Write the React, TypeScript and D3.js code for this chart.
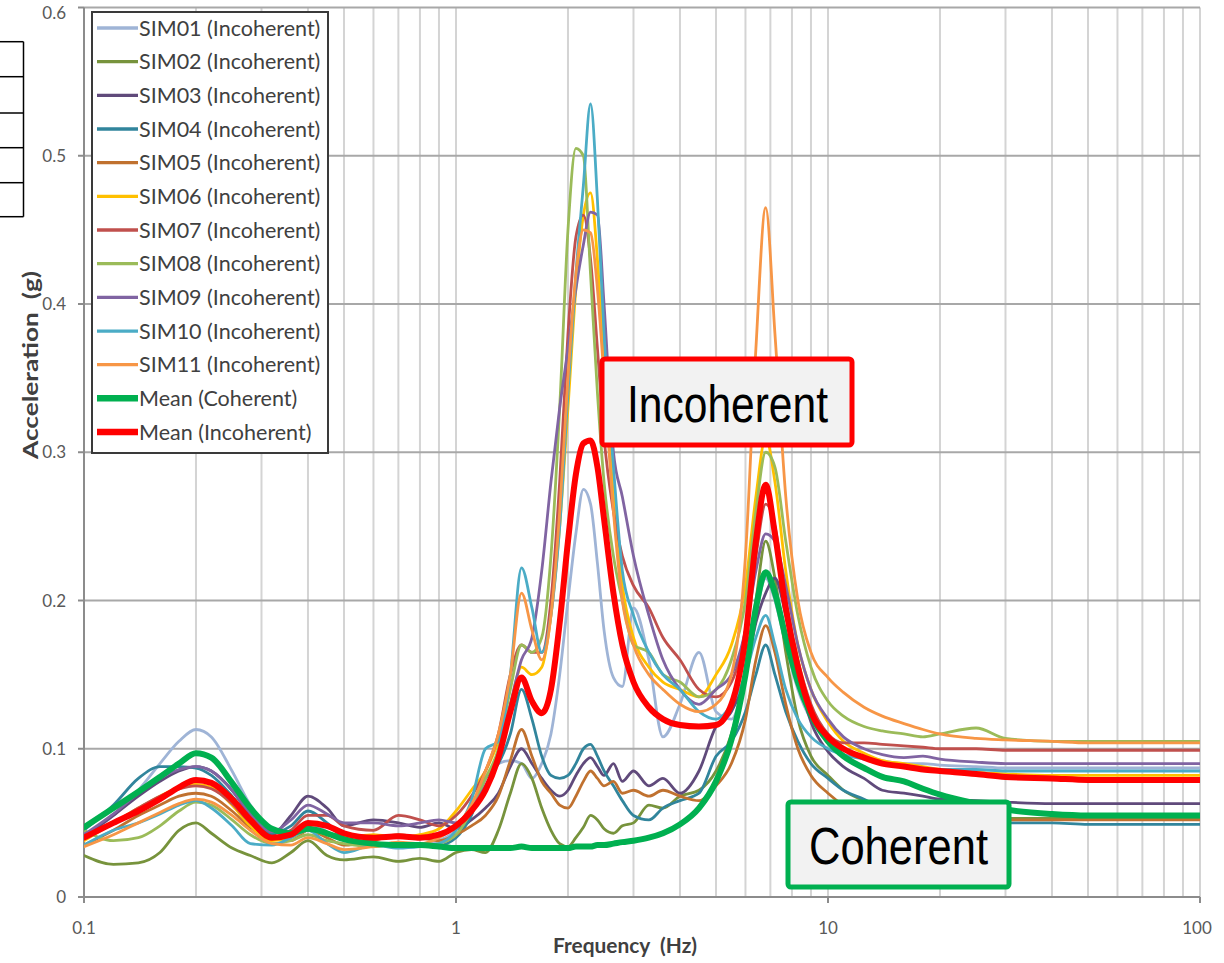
import React from "react";
import * as d3 from "d3";

const freqs = [0.1, 0.12, 0.14, 0.16, 0.18, 0.2, 0.22, 0.25, 0.28, 0.32,
  0.36, 0.4, 0.45, 0.5, 0.6, 0.7, 0.8, 0.9, 1.0, 1.1,
  1.2, 1.3, 1.4, 1.5, 1.6, 1.7, 1.8, 1.9, 2.0, 2.1,
  2.2, 2.3, 2.4, 2.5, 2.65, 2.8, 3.0, 3.3, 3.6, 4.0,
  4.5, 5.0, 5.5, 6.0, 6.4, 6.8, 7.2, 7.7, 8.3, 9.0,
  10, 11, 12.5, 14, 16, 18, 20, 25, 30, 40,
  50, 70, 100];

const sim01 = [0.042, 0.055, 0.072, 0.090, 0.105, 0.113, 0.108, 0.085, 0.062, 0.045,
  0.042, 0.050, 0.044, 0.038, 0.034, 0.036, 0.035, 0.038, 0.045, 0.060,
  0.080, 0.090, 0.092, 0.090, 0.080, 0.090, 0.110, 0.150, 0.200, 0.245,
  0.275, 0.265, 0.225, 0.180, 0.148, 0.142, 0.195, 0.160, 0.108, 0.130,
  0.165, 0.125, 0.120, 0.150, 0.190, 0.215, 0.200, 0.170, 0.140, 0.120,
  0.108, 0.100, 0.095, 0.092, 0.090, 0.090, 0.089, 0.088, 0.087, 0.087,
  0.087, 0.087, 0.087];
const sim02 = [0.028, 0.022, 0.023, 0.030, 0.045, 0.050, 0.043, 0.033, 0.028, 0.023,
  0.030, 0.038, 0.028, 0.025, 0.027, 0.024, 0.026, 0.024, 0.030, 0.032,
  0.030, 0.045, 0.070, 0.090, 0.080, 0.060, 0.045, 0.036, 0.034, 0.040,
  0.047, 0.055, 0.052, 0.046, 0.043, 0.048, 0.050, 0.062, 0.060, 0.068,
  0.072, 0.085, 0.110, 0.150, 0.200, 0.240, 0.215, 0.165, 0.120, 0.095,
  0.082, 0.072, 0.065, 0.060, 0.057, 0.056, 0.055, 0.054, 0.053, 0.053,
  0.053, 0.053, 0.053];
const sim03 = [0.040, 0.055, 0.068, 0.078, 0.085, 0.088, 0.085, 0.072, 0.055, 0.042,
  0.055, 0.068, 0.060, 0.048, 0.052, 0.050, 0.047, 0.050, 0.046, 0.052,
  0.060, 0.070, 0.088, 0.100, 0.090, 0.080, 0.072, 0.068, 0.072, 0.082,
  0.090, 0.094, 0.088, 0.082, 0.090, 0.078, 0.085, 0.075, 0.080, 0.070,
  0.085, 0.115, 0.125, 0.150, 0.185, 0.205, 0.215, 0.190, 0.150, 0.118,
  0.098, 0.088, 0.080, 0.072, 0.070, 0.068, 0.066, 0.065, 0.064, 0.063,
  0.063, 0.063, 0.063];
const sim04 = [0.045, 0.062, 0.080, 0.088, 0.088, 0.087, 0.082, 0.068, 0.053, 0.043,
  0.048, 0.058, 0.050, 0.040, 0.036, 0.034, 0.036, 0.035, 0.040, 0.055,
  0.080, 0.090, 0.110, 0.140, 0.120, 0.095, 0.082, 0.080, 0.082, 0.090,
  0.100, 0.103, 0.095, 0.085, 0.075, 0.065, 0.055, 0.052, 0.060, 0.065,
  0.070, 0.095, 0.105, 0.125, 0.150, 0.170, 0.150, 0.125, 0.105, 0.090,
  0.080, 0.072, 0.066, 0.060, 0.056, 0.054, 0.052, 0.051, 0.050, 0.050,
  0.049, 0.049, 0.049];
const sim05 = [0.035, 0.045, 0.055, 0.062, 0.068, 0.070, 0.068, 0.058, 0.047, 0.040,
  0.038, 0.045, 0.040, 0.035, 0.038, 0.042, 0.040, 0.038, 0.042, 0.048,
  0.055, 0.068, 0.092, 0.113, 0.095, 0.078, 0.070, 0.062, 0.060, 0.068,
  0.078, 0.085, 0.080, 0.075, 0.078, 0.070, 0.072, 0.068, 0.072, 0.068,
  0.065, 0.075, 0.090, 0.120, 0.160, 0.183, 0.165, 0.130, 0.100, 0.082,
  0.070, 0.062, 0.056, 0.054, 0.053, 0.053, 0.053, 0.052, 0.052, 0.052,
  0.052, 0.052, 0.052];
const sim06 = [0.038, 0.050, 0.060, 0.068, 0.074, 0.076, 0.074, 0.062, 0.048, 0.038,
  0.040, 0.045, 0.042, 0.040, 0.042, 0.040, 0.042, 0.046, 0.058, 0.072,
  0.085, 0.105, 0.130, 0.155, 0.150, 0.155, 0.190, 0.250, 0.330, 0.410,
  0.460, 0.475, 0.430, 0.360, 0.270, 0.210, 0.175, 0.155, 0.145, 0.140,
  0.135, 0.150, 0.170, 0.210, 0.270, 0.310, 0.280, 0.220, 0.170, 0.140,
  0.118, 0.105, 0.097, 0.092, 0.090, 0.088, 0.086, 0.084, 0.083, 0.082,
  0.082, 0.082, 0.082];
const sim07 = [0.040, 0.050, 0.060, 0.068, 0.073, 0.075, 0.073, 0.063, 0.050, 0.040,
  0.045, 0.055, 0.055, 0.048, 0.045, 0.055, 0.052, 0.048, 0.055, 0.068,
  0.085, 0.110, 0.150, 0.170, 0.165, 0.165, 0.200, 0.280, 0.380, 0.445,
  0.460, 0.430, 0.370, 0.310, 0.260, 0.230, 0.210, 0.195, 0.175, 0.160,
  0.140, 0.135, 0.145, 0.180, 0.230, 0.265, 0.250, 0.200, 0.160, 0.130,
  0.110, 0.104, 0.104, 0.103, 0.102, 0.101, 0.100, 0.100, 0.099, 0.099,
  0.099, 0.099, 0.099];
const sim08 = [0.045, 0.038, 0.040, 0.048, 0.058, 0.064, 0.062, 0.052, 0.042, 0.036,
  0.038, 0.042, 0.038, 0.036, 0.034, 0.036, 0.034, 0.036, 0.042, 0.058,
  0.080, 0.100, 0.140, 0.170, 0.165, 0.175, 0.230, 0.330, 0.450, 0.505,
  0.500, 0.420, 0.340, 0.280, 0.230, 0.200, 0.170, 0.165, 0.150, 0.145,
  0.135, 0.140, 0.160, 0.200, 0.260, 0.300, 0.290, 0.240, 0.190, 0.155,
  0.132, 0.122, 0.115, 0.112, 0.110, 0.108, 0.110, 0.114, 0.107, 0.105,
  0.105, 0.105, 0.105];
const sim09 = [0.042, 0.056, 0.070, 0.080, 0.086, 0.088, 0.085, 0.072, 0.056, 0.044,
  0.052, 0.062, 0.056, 0.050, 0.050, 0.048, 0.050, 0.052, 0.050, 0.060,
  0.075, 0.095, 0.130, 0.160, 0.175, 0.220, 0.280, 0.330, 0.370, 0.410,
  0.440, 0.462, 0.460, 0.400, 0.300, 0.270, 0.230, 0.190, 0.160, 0.140,
  0.130, 0.140, 0.150, 0.180, 0.220, 0.245, 0.240, 0.210, 0.170, 0.140,
  0.120, 0.108, 0.100, 0.096, 0.094, 0.095, 0.093, 0.091, 0.090, 0.090,
  0.090, 0.090, 0.090];
const sim10 = [0.035, 0.045, 0.050, 0.056, 0.062, 0.065, 0.060, 0.048, 0.036, 0.035,
  0.040, 0.045, 0.036, 0.030, 0.035, 0.033, 0.034, 0.036, 0.045, 0.065,
  0.100, 0.105, 0.150, 0.222, 0.195, 0.165, 0.190, 0.250, 0.340, 0.420,
  0.480, 0.535, 0.470, 0.380, 0.290, 0.220, 0.190, 0.165, 0.150, 0.140,
  0.125, 0.120, 0.130, 0.150, 0.175, 0.190, 0.170, 0.140, 0.120, 0.108,
  0.100, 0.096, 0.093, 0.090, 0.088, 0.087, 0.086, 0.086, 0.085, 0.085,
  0.085, 0.085, 0.085];
const sim11 = [0.034, 0.042, 0.050, 0.057, 0.063, 0.066, 0.064, 0.055, 0.045, 0.036,
  0.035, 0.040, 0.036, 0.032, 0.034, 0.037, 0.036, 0.040, 0.048, 0.062,
  0.085, 0.110, 0.150, 0.205, 0.180, 0.160, 0.190, 0.260, 0.350, 0.420,
  0.450, 0.448, 0.410, 0.350, 0.260, 0.200, 0.170, 0.150, 0.140, 0.130,
  0.125, 0.130, 0.150, 0.230, 0.370, 0.465, 0.380, 0.270, 0.200, 0.165,
  0.148, 0.138, 0.128, 0.122, 0.117, 0.113, 0.110, 0.107, 0.106, 0.105,
  0.104, 0.104, 0.104];
const meanCoherent = [0.047, 0.060, 0.071, 0.081, 0.090, 0.097, 0.094, 0.077, 0.060, 0.046,
  0.043, 0.046, 0.043, 0.039, 0.036, 0.035, 0.035, 0.034, 0.033, 0.033,
  0.033, 0.033, 0.033, 0.034, 0.033, 0.033, 0.033, 0.033, 0.033, 0.034,
  0.034, 0.034, 0.035, 0.035, 0.036, 0.037, 0.038, 0.040, 0.043, 0.049,
  0.060, 0.078, 0.106, 0.150, 0.195, 0.219, 0.205, 0.175, 0.145, 0.123,
  0.105, 0.095, 0.087, 0.081, 0.078, 0.073, 0.069, 0.063, 0.059, 0.056,
  0.055, 0.055, 0.055];
const meanIncoherent = [0.040, 0.050, 0.058, 0.066, 0.074, 0.079, 0.077, 0.066, 0.052, 0.040,
  0.042, 0.050, 0.048, 0.043, 0.040, 0.041, 0.040, 0.042, 0.048, 0.058,
  0.072, 0.094, 0.125, 0.148, 0.132, 0.124, 0.140, 0.185, 0.240, 0.285,
  0.306, 0.308, 0.290, 0.255, 0.205, 0.170, 0.145, 0.128, 0.120, 0.116,
  0.115, 0.116, 0.130, 0.175, 0.240, 0.278, 0.245, 0.195, 0.155, 0.125,
  0.108, 0.100, 0.094, 0.090, 0.088, 0.086, 0.085, 0.083, 0.081, 0.080,
  0.079, 0.079, 0.079];

const seriesNames = ["SIM01 (Incoherent)", "SIM02 (Incoherent)", "SIM03 (Incoherent)", "SIM04 (Incoherent)",
  "SIM05 (Incoherent)", "SIM06 (Incoherent)", "SIM07 (Incoherent)", "SIM08 (Incoherent)",
  "SIM09 (Incoherent)", "SIM10 (Incoherent)", "SIM11 (Incoherent)", "Mean (Coherent)", "Mean (Incoherent)"];
const seriesValues = [sim01, sim02, sim03, sim04, sim05, sim06, sim07, sim08, sim09, sim10, sim11, meanCoherent, meanIncoherent];
const seriesColors = ["#9fb4d6", "#77933c", "#604a7b", "#31859c", "#c0712f", "#ffc000", "#c0504d",
  "#9bbb59", "#8064a2", "#4bacc6", "#f79646", "#00b050", "#ff0000"];
const seriesWidths = [2.8, 2.8, 2.8, 2.8, 2.8, 2.8, 2.8, 2.8, 2.8, 2.8, 2.8, 6, 6];

const yTicks = [0, 0.1, 0.2, 0.3, 0.4, 0.5, 0.6];
const yTickLabels = ["0", "0.1", "0.2", "0.3", "0.4", "0.5", "0.6"];
const xTicks = [0.1, 1, 10, 100];
const xTickLabels = ["0.1", "1", "10", "100"];

const xTitle = "Frequency  (Hz)";
const yTitle = "Acceleration  (g)";
const annoIncoherent = "Incoherent";
const annoCoherent = "Coherent";

export default function App() {
  const W = 1224, H = 963;
  const left = 84, right = 1200, top = 7.5, bottom = 897;
  const x = d3.scaleLog().domain([0.1, 100]).range([left, right]);
  const y = d3.scaleLinear().domain([0, 0.6]).range([bottom, top]);

  const minor: number[] = [];
  [0.1, 1, 10].forEach((d) => { for (let k = 2; k <= 10; k++) minor.push(d * k); });

  const line = d3.line<number>()
    .x((_, i) => x(freqs[i]))
    .y((v) => y(v))
    .curve(d3.curveMonotoneX);

  const font = "Lato, 'Open Sans', sans-serif";
  const legX = 92, legY = 12, legW = 236, legH = 441;
  const legRow0 = 28, legStep = 33.67;

  const tableRows = [41.7, 76.7, 113, 147.7, 182.7, 216.7];

  return (
    <svg width={W} height={H} style={{ position: "absolute", left: 0, top: 0, background: "#fff" }}
      xmlns="http://www.w3.org/2000/svg">
      <rect x={0} y={0} width={W} height={H} fill="#fff" />
      <defs>
        <clipPath id="plotclip">
          <rect x={left} y={top - 2} width={right - left} height={bottom - top + 2} />
        </clipPath>
      </defs>

      {/* partial table at left edge */}
      <g stroke="#000" strokeWidth={1.5} fill="none">
        {tableRows.map((r, i) => (<line key={"tr" + i} x1={0} x2={23.5} y1={r} y2={r} />))}
        <line x1={23.5} x2={23.5} y1={tableRows[0]} y2={tableRows[tableRows.length - 1]} />
      </g>

      {/* vertical gridlines */}
      <g>
        {minor.map((f, i) => (
          <line key={"vg" + i} x1={x(f)} x2={x(f)} y1={top} y2={bottom} stroke="#d4d4d4" strokeWidth={2} />
        ))}
      </g>
      {/* horizontal gridlines */}
      <g>
        {yTicks.filter((t) => t > 0).map((t, i) => (
          <line key={"hg" + i} x1={left} x2={right} y1={y(t)} y2={y(t)} stroke="#a8a8a8" strokeWidth={2.2} />
        ))}
      </g>
      {/* axes */}
      <line x1={left} x2={left} y1={top} y2={bottom} stroke="#8c8c8c" strokeWidth={2} />
      <line x1={left} x2={right} y1={bottom} y2={bottom} stroke="#8c8c8c" strokeWidth={2} />
      {yTicks.map((t, i) => (
        <line key={"yt" + i} x1={left - 6} x2={left} y1={y(t)} y2={y(t)} stroke="#8c8c8c" strokeWidth={2} />
      ))}
      {xTicks.map((t, i) => (
        <line key={"xt" + i} x1={x(t)} x2={x(t)} y1={bottom} y2={bottom + 6} stroke="#8c8c8c" strokeWidth={2} />
      ))}

      {/* tick labels */}
      {yTicks.map((t, i) => (
        <text key={"yl" + i} x={66} y={Math.max(y(t) + 6, 19)} textAnchor="end" fontFamily={font} fontSize={17} fill="#595959">
          {yTickLabels[i]}
        </text>
      ))}
      {xTicks.map((t, i) => (
        <text key={"xl" + i} x={x(t) - (i === 3 ? 3 : 0)} y={934} textAnchor="middle" fontFamily={font} fontSize={17} fill="#595959">
          {xTickLabels[i]}
        </text>
      ))}

      {/* axis titles */}
      <text x={625} y={953} textAnchor="middle" fontFamily={font} fontWeight="bold" fontSize={20}
        fill="#404040" textLength={144} lengthAdjust="spacingAndGlyphs" style={{ whiteSpace: "pre" }}>
        {xTitle}
      </text>
      <text transform="translate(38,365) rotate(-90)" textAnchor="middle" fontFamily={font} fontWeight="bold" fontSize={20}
        fill="#404040" textLength={188} lengthAdjust="spacingAndGlyphs" style={{ whiteSpace: "pre" }}>
        {yTitle}
      </text>

      {/* series */}
      <g clipPath="url(#plotclip)" fill="none" strokeLinejoin="round" strokeLinecap="round">
        {seriesValues.map((vals, i) => (
          <path key={"s" + i} d={line(vals) || ""} stroke={seriesColors[i]} strokeWidth={seriesWidths[i]} />
        ))}
      </g>

      {/* legend */}
      <rect x={legX} y={legY} width={legW} height={legH} fill="#fff" stroke="#3a3a3a" strokeWidth={2} />
      {seriesNames.map((n, i) => {
        const cy = legRow0 + i * legStep;
        return (
          <g key={"lg" + i}>
            <line x1={97} x2={138} y1={cy} y2={cy} stroke={seriesColors[i]} strokeWidth={seriesWidths[i] + 0.5} />
            <text x={139} y={cy + 7.5} fontFamily={font} fontSize={21.5} fill="#404040">{n}</text>
          </g>
        );
      })}

      {/* annotations */}
      <rect x={602} y={359} width={250} height={86} rx={3} fill="#f2f2f2" stroke="#ff0000" strokeWidth={5} />
      <text x={627} y={422} fontFamily="'Liberation Sans Narrow', 'Liberation Sans', Arial, sans-serif" fontSize={52}
        textLength={201} lengthAdjust="spacingAndGlyphs" fill="#000">{annoIncoherent}</text>
      <rect x={788} y={802} width={221} height={85} rx={3} fill="#f2f2f2" stroke="#00b050" strokeWidth={5} />
      <text x={809} y={864} fontFamily="'Liberation Sans Narrow', 'Liberation Sans', Arial, sans-serif" fontSize={52}
        textLength={179} lengthAdjust="spacingAndGlyphs" fill="#000">{annoCoherent}</text>
    </svg>
  );
}
